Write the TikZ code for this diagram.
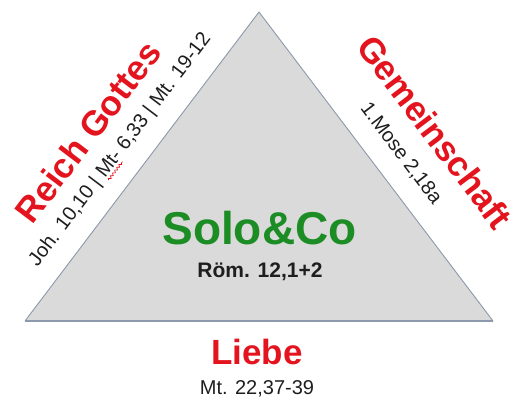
\documentclass[tikz,border=0pt]{standalone}
\usepackage{fontspec}
\setmainfont{Liberation Sans}
\usetikzlibrary{calc,decorations.pathmorphing}
\definecolor{trifill}{RGB}{218,218,218}
\definecolor{triedge}{RGB}{140,152,172}
\definecolor{titlered}{RGB}{228,20,30}
\definecolor{titlegreen}{RGB}{28,140,36}
\definecolor{reftext}{RGB}{30,30,30}
\tikzset{
  bigred/.style={text=titlered, font=\fontsize{35}{40}\selectfont\bfseries, inner sep=0pt, anchor=base},
  refstyle/.style={text=reftext, font=\fontsize{20}{24}\selectfont, inner sep=0pt, anchor=base},
  spellwave/.style={draw=titlered, line width=0.7pt, decorate, decoration={snake, amplitude=1.1pt, segment length=3.5pt}}
}
\begin{document}
\begin{tikzpicture}[x=1pt,y=1pt]
\useasboundingbox (0,0) rectangle (516,398);
% triangle corners
\coordinate (A) at (25,77);
\coordinate (B) at (493,77);
\coordinate (P) at (259,386);
\coordinate (mL) at ($(A)!0.5!(P)$);
\coordinate (mR) at ($(P)!0.5!(B)$);
\fill[trifill] (A) -- (B) -- (P) -- cycle;
\draw[triedge, line width=0.9pt, line join=round] (A) -- (P) -- (B);
\draw[triedge, line width=1.6pt] (A) -- (B);
% centre
\node[text=titlegreen, font=\fontsize{46}{52}\selectfont\bfseries, inner sep=0pt, anchor=base] (solo) at (259.5,153) {Solo\&Co};
\node[text=reftext, font=\fontsize{21}{25}\selectfont\bfseries, inner sep=0pt, anchor=base] (rom) at (260,120) {Röm. 12,1+2};
% bottom
\node[bigred] (liebe) at (257,33) {Liebe};
\node[refstyle] (mt22) at (257,3) {Mt. 22,37-39};
% left side
\begin{scope}[shift={(mL)}, rotate=52.86]
  \node[bigred, rotate=52.86] (reich) at (-5,51.5) {Reich Gottes};
  \node[refstyle, rotate=52.86] (joh) at (0,22) {Joh. 10,10 | Mt- 6,33 | Mt. 19-12};
  \coordinate (w1) at (-31,18.5);
  \coordinate (w2) at (-8,18.5);
  \draw[spellwave] (w1) -- (w2);
\end{scope}
% right side
\begin{scope}[shift={(mR)}, rotate=-52.86]
  \node[bigred, rotate=-52.86] (gemein) at (8,55.5) {Gemeinschaft};
  \node[refstyle, rotate=-52.86] (mose) at (5,22) {1.Mose 2,18a};
\end{scope}
\end{tikzpicture}
\end{document}
